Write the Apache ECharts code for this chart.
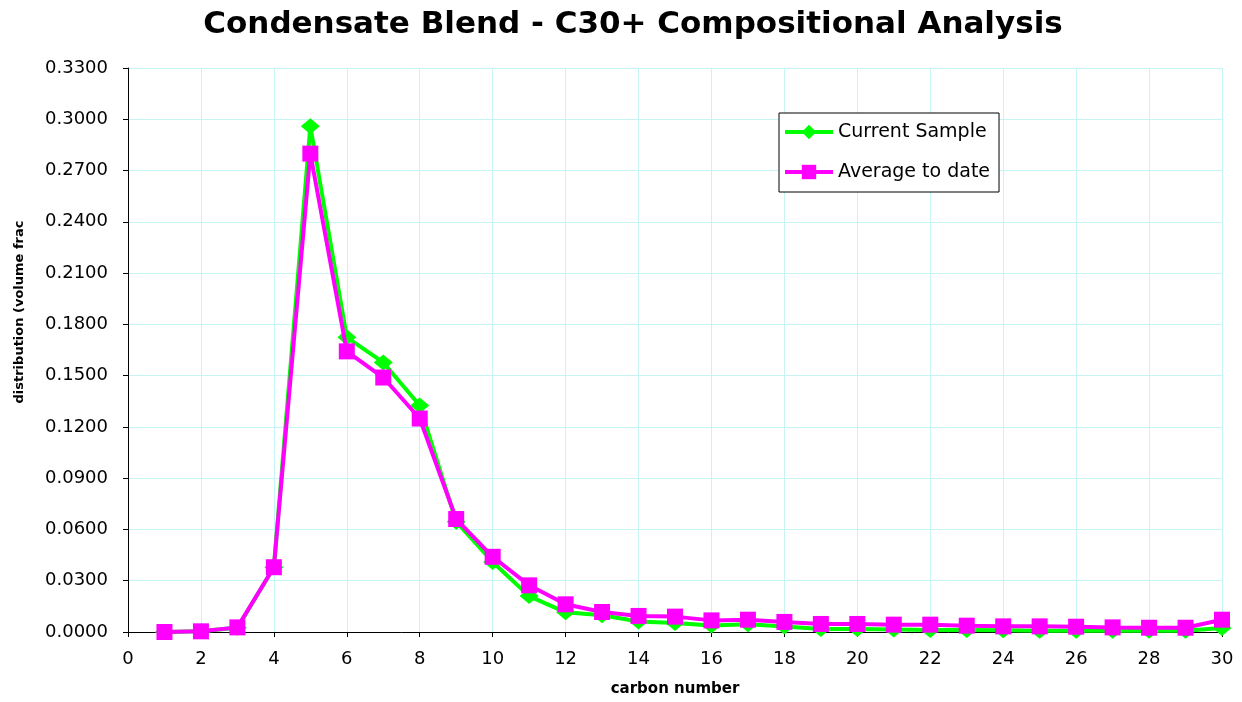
<!DOCTYPE html>
<html>
<head>
<meta charset="utf-8">
<script src="https://cdn.jsdelivr.net/npm/echarts@6/dist/echarts.min.js"></script>
<style>
html,body{margin:0;padding:0;background:#fff;}
#chart{width:1242px;height:702px;}
</style>
</head>
<body>
<div id="chart"></div>
<script>
var carbonNumbers = [1,2,3,4,5,6,7,8,9,10,11,12,13,14,15,16,17,18,19,20,21,22,23,24,25,26,27,28,29,30];
var currentSample = [0.0000,0.0004,0.0025,0.0379,0.2959,0.1724,0.1577,0.1325,0.0645,0.0410,0.0210,0.0115,0.0098,0.0062,0.0053,0.0038,0.0046,0.0032,0.0018,0.0018,0.0015,0.0012,0.0011,0.0010,0.0008,0.0008,0.0007,0.0007,0.0007,0.0023];
var averageToDate = [0.0000,0.0004,0.0027,0.0379,0.2799,0.1642,0.1489,0.1249,0.0661,0.0440,0.0273,0.0162,0.0117,0.0094,0.0090,0.0068,0.0072,0.0059,0.0047,0.0047,0.0043,0.0043,0.0037,0.0033,0.0033,0.0031,0.0027,0.0025,0.0025,0.0072];
var seriesNames = ['Current Sample','Average to date'];
var titleText = 'Condensate Blend - C30+ Compositional Analysis';
var xAxisName = 'carbon number';
var yAxisName = 'distribution (volume frac';

function pairs(vals){ return carbonNumbers.map(function(c,i){ return [c, vals[i]]; }); }

var chart = echarts.init(document.getElementById('chart'), null, {renderer:'canvas'});
var font = 'DejaVu Sans, Liberation Sans, Arial, sans-serif';
chart.setOption({
  animation:false,
  backgroundColor:'#ffffff',
  title:{
    text:titleText, left:628, top:4, textAlign:'center',
    textStyle:{fontFamily:font, fontWeight:'bold', fontSize:31, color:'#000'}
  },
  legend:{
    orient:'vertical', left:779, top:113,
    padding:[9,9,10,4],
    backgroundColor:'#fff', borderColor:'#000', borderWidth:1,
    itemWidth:48, itemHeight:18, itemGap:20,
    lineStyle:{width:4},
    textStyle:{fontFamily:font, fontSize:19, color:'#000', lineHeight:20},
    data:seriesNames
  },
  grid:{left:128, right:20, top:68, bottom:69, containLabel:false},
  xAxis:{
    type:'value', min:0, max:30, interval:2,
    name:xAxisName, nameLocation:'middle', nameGap:50,
    nameTextStyle:{fontFamily:font, fontWeight:'bold', fontSize:15, color:'#000'},
    axisLine:{show:true, onZero:false, lineStyle:{color:'#000', width:1}},
    axisTick:{show:true, length:5, inside:false, lineStyle:{color:'#000'}},
    axisLabel:{fontFamily:font, fontSize:18, color:'#000', margin:18},
    splitLine:{show:true, lineStyle:{color:'#c6f5f5', width:1}}
  },
  yAxis:{
    type:'value', min:0, max:0.33, interval:0.03,
    name:yAxisName, nameLocation:'middle', nameGap:102,
    nameTextStyle:{fontFamily:font, fontWeight:'bold', fontSize:13, color:'#000', padding:[0,0,0,76]},
    axisLine:{show:true, lineStyle:{color:'#000', width:1}},
    axisTick:{show:true, length:5, inside:false, lineStyle:{color:'#000'}},
    axisLabel:{fontFamily:font, fontSize:18, color:'#000', margin:20,
      formatter:function(v){ return v.toFixed(4); }},
    splitLine:{show:true, lineStyle:{color:'#c6f5f5', width:1}}
  },
  series:[
    {
      name:seriesNames[0], type:'line', data:pairs(currentSample),
      symbol:'diamond', symbolSize:[19,16],
      lineStyle:{color:'#00ff00', width:4},
      itemStyle:{color:'#00ff00'},
      z:2
    },
    {
      name:seriesNames[1], type:'line', data:pairs(averageToDate),
      symbol:'rect', symbolSize:16,
      lineStyle:{color:'#ff00ff', width:4},
      itemStyle:{color:'#ff00ff'},
      z:3
    }
  ]
});
</script>
</body>
</html>
